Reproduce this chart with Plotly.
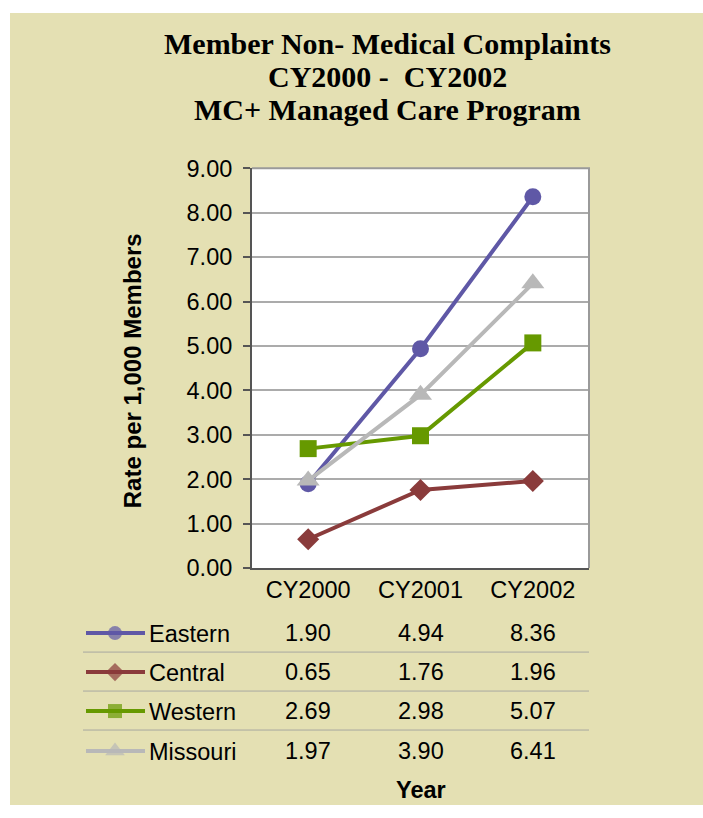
import plotly.graph_objects as go

W, H = 703, 818

categories = ["CY2000", "CY2001", "CY2002"]
series_names = ["Eastern", "Central", "Western", "Missouri"]
eastern = [1.90, 4.94, 8.36]
central = [0.65, 1.76, 1.96]
western = [2.69, 2.98, 5.07]
missouri = [1.97, 3.90, 6.41]
y_ticks = [0, 1, 2, 3, 4, 5, 6, 7, 8, 9]
title_lines = ["Member Non- Medical Complaints", "CY2000 -  CY2002", "MC+ Managed Care Program"]
y_title = "Rate per 1,000 Members"
x_title = "Year"

series_values = [eastern, central, western, missouri]
colors = ["#5F58A6", "#8A3B3B", "#669900", "#B8B8B8"]
symbols = ["circle", "diamond", "square", "triangle-up"]
msizes = [17, 17, 17, 20]

BEIGE = "#E4E0B3"
SANS = "Liberation Sans, Arial, sans-serif"
SERIF = "Liberation Serif, Times New Roman, serif"


def px(x):
    return x / W


def fy(y_ref):
    # layout pixel row that lands on the reference row in the returned picture
    return (y_ref - 11.6) / 0.9687


def py(y_ref):
    return (H - fy(y_ref)) / H


PL, PR, PT, PB = 252, 589, 167, 567

fig = go.Figure()

for name, vals, c, s, ms in zip(series_names, series_values, colors, symbols, msizes):
    fig.add_trace(go.Scatter(
        x=categories, y=vals, name=name, mode="lines+markers",
        line=dict(color=c, width=4),
        marker=dict(symbol=s, size=ms, color=c),
        xaxis="x", yaxis="y", showlegend=False, cliponaxis=False,
    ))

row_y = [632, 671, 710, 750]
for i, (name, c, s, ms) in enumerate(zip(series_names, colors, symbols, msizes)):
    yy = fy(row_y[i])
    fig.add_trace(go.Scatter(
        x=[86, 115, 145], y=[yy] * 3, mode="lines+markers",
        line=dict(color=c, width=4),
        marker=dict(symbol=s, size=[0, ms - 3, 0], color=c, line=dict(width=0)),
        xaxis="x2", yaxis="y2", showlegend=False, hoverinfo="skip",
    ))

annotations = []
for line, yy in zip(title_lines, [42, 75, 108]):
    annotations.append(dict(
        text=f"<b>{line}</b>", x=px(387), y=py(yy), xref="paper", yref="paper",
        showarrow=False, xanchor="center", yanchor="middle",
        font=dict(family=SERIF, size=30, color="#000000"),
    ))
annotations.append(dict(
    text=f"<b>{y_title}</b>", x=px(132), y=py(370), xref="paper", yref="paper",
    showarrow=False, textangle=-90, xanchor="center", yanchor="middle",
    font=dict(family=SANS, size=24, color="#000000"),
))
for i, (name, vals) in enumerate(zip(series_names, series_values)):
    annotations.append(dict(
        text=name, x=px(147), y=py(row_y[i] + 1), xref="paper", yref="paper",
        showarrow=False, xanchor="left", yanchor="middle",
        font=dict(family=SANS, size=23.5, color="#000000"),
    ))
    for cat, v in zip(categories, vals):
        annotations.append(dict(
            text=f"{v:.2f}", x=cat, y=py(row_y[i]), xref="x", yref="paper",
            showarrow=False, xanchor="center", yanchor="middle",
            font=dict(family=SANS, size=23.5, color="#000000"),
        ))
annotations.append(dict(
    text=f"<b>{x_title}</b>", x=categories[1], y=py(789), xref="x", yref="paper",
    showarrow=False, xanchor="center", yanchor="middle",
    font=dict(family=SANS, size=23.5, color="#000000"),
))

shapes = [
    dict(type="rect", xref="paper", yref="paper", x0=px(10), x1=1, y0=0, y1=1,
         fillcolor=BEIGE, line=dict(width=0), layer="below"),
    dict(type="rect", xref="paper", yref="paper", x0=px(PL), x1=px(PR), y0=py(PB), y1=py(PT),
         fillcolor="#FFFFFF", line=dict(width=0), layer="below"),
    dict(type="line", xref="paper", yref="paper", x0=px(PL), x1=px(PR + 1), y0=py(PT), y1=py(PT),
         line=dict(color="#9A9A9A", width=2)),
    dict(type="line", xref="paper", yref="paper", x0=px(PR), x1=px(PR), y0=py(PT), y1=py(PB),
         line=dict(color="#9A9A9A", width=2)),
]
for sy in [651, 690, 729]:
    shapes.append(dict(type="line", xref="paper", yref="paper", x0=px(83), x1=px(589),
                       y0=py(sy), y1=py(sy), line=dict(color="#A8A8A0", width=1)))

fig.update_layout(
    width=W, height=H,
    margin=dict(l=0, r=0, t=0, b=0),
    paper_bgcolor="#FFFFFF",
    plot_bgcolor="rgba(0,0,0,0)",
    showlegend=False,
    annotations=annotations,
    shapes=shapes,
    xaxis=dict(
        domain=[px(PL), px(PR)], anchor="y", type="category",
        range=[-0.5, 2.5], showgrid=False, ticks="", showline=True,
        linecolor="#555555", linewidth=2,
        tickfont=dict(family=SANS, size=23.5, color="#000000"),
        fixedrange=True,
    ),
    yaxis=dict(
        domain=[py(PB), py(PT)], anchor="x", range=[0, 9],
        tickvals=y_ticks, tickformat=".2f",
        showgrid=True, gridcolor="#ABABAB", gridwidth=1.5,
        ticks="outside", ticklen=7, tickwidth=1.5, tickcolor="#555555",
        ticklabelstandoff=6,
        showline=True, linecolor="#555555", linewidth=2,
        tickfont=dict(family=SANS, size=23.5, color="#000000"),
        zeroline=False, fixedrange=True,
    ),
    xaxis2=dict(domain=[0, 1], anchor="y2", range=[0, W], visible=False, fixedrange=True),
    yaxis2=dict(domain=[0, 1], anchor="x2", range=[H, 0], visible=False, fixedrange=True),
)

fig.write_html(
    "out.html",
    config={"displayModeBar": False},
    post_script="document.body.style.margin='0';document.body.style.overflow='hidden';",
)
